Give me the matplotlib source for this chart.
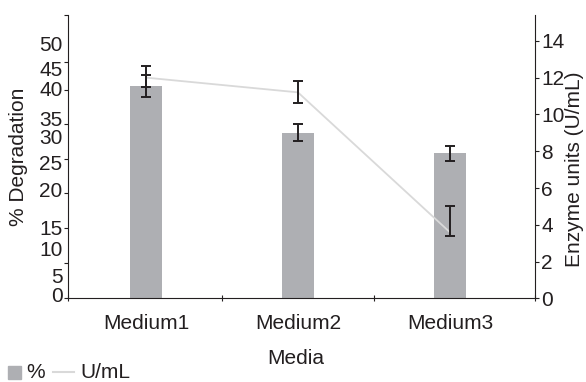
import matplotlib.pyplot as plt
from matplotlib.lines import Line2D
from matplotlib.patches import Rectangle

plt.rcParams["font.family"] = ["Liberation Sans", "DejaVu Sans"]

# degradation (%) per medium, and enzyme activity (U/mL) per medium
media = ["Medium1", "Medium2", "Medium3"]
degradation = [40.9, 31.9, 27.9]
degradation_err = [2.1, 1.6, 1.4]
enzyme = [12.0, 11.2, 3.6]
enzyme_err_low = [0.5, 0.6, 0.2]
enzyme_err_high = [0.65, 0.6, 1.4]

# left axis: printed labels and tick marks do not sit on the same grid
left_labels = ["0", "5", "10", "15", "20", "25", "30", "35", "40", "45", "50"]
left_label_pos = [0.7, 4.5, 9.7, 13.6, 20.9, 26.1, 31.2, 34.7, 40.3, 44.3, 49.1]
left_tick_marks = [0, 6.8, 13.5, 20.3, 26.8, 33.6, 40.1, 45.5, 54.5]
right_ticks = [0, 2, 4, 6, 8, 10, 12, 14]

INK = "#231F20"
BAR = "#AEAFB3"
LINE = "#D9D9D9"
FS = 15

fig = plt.figure(figsize=(5.86, 3.82), dpi=100)
ax = fig.add_axes([0.116, 0.2186, 0.797, 0.742])
ax2 = ax.twinx()

x = range(len(media))
ax.bar(x, degradation, width=0.21, color=BAR, zorder=2)
ax.errorbar(x, degradation, yerr=degradation_err, fmt="none", ecolor=INK,
            elinewidth=1.4, capsize=3.3, capthick=1.4, zorder=3)

ax2.plot(x, enzyme, color=LINE, lw=1.3, zorder=2)
ax2.errorbar(x, enzyme, yerr=[enzyme_err_low, enzyme_err_high], fmt="none",
             ecolor=INK, elinewidth=1.4, capsize=3.3, capthick=1.4, zorder=3)

ax.set_xlim(-0.513, 2.56)
ax.set_ylim(0, 54.5)
ax2.set_ylim(0, 15.4)

for a in (ax, ax2):
    a.spines["top"].set_visible(False)
    for s in a.spines.values():
        s.set_linewidth(0.8)
        s.set_color(INK)
ax.spines["right"].set_visible(False)
ax2.spines["left"].set_visible(False)
ax2.spines["bottom"].set_visible(False)

ax.set_xticks(list(x), media)
ax.set_xticks([-0.513, 0.5, 1.5, 2.56], minor=True)
ax.tick_params(axis="x", which="major", length=0, pad=11, labelsize=FS, labelcolor=INK)
ax.tick_params(axis="x", which="minor", direction="inout", length=5, width=0.8, color=INK)

ax.set_yticks(left_label_pos, left_labels)
ax.set_yticks(left_tick_marks, minor=True)
ax.tick_params(axis="y", which="major", length=0, pad=4, labelsize=FS, labelcolor=INK)
ax.tick_params(axis="y", which="minor", length=2.6, width=0.8, color=INK)

ax2.set_yticks(right_ticks)
ax2.tick_params(axis="y", length=2.6, width=0.8, color=INK, pad=2,
                labelsize=FS, labelcolor=INK)

fig.text(19 / 586, 1 - 157 / 382, "% Degradation", rotation=90, ha="center",
         va="center", fontsize=FS, color=INK)
fig.text(574 / 586, 1 - 169 / 382, "Enzyme units (U/mL)", rotation=90,
         ha="center", va="center", fontsize=FS, color=INK)
fig.text(296 / 586, 1 - 358 / 382, "Media", ha="center", va="center",
         fontsize=FS, color=INK)

# legend drawn by hand along the bottom edge
fig.patches.append(Rectangle((8 / 586, 1 - 379 / 382), 13 / 586, 13 / 382,
                             transform=fig.transFigure, color=BAR))
fig.text(26 / 586, 1 - 372 / 382, "%", ha="left", va="center", fontsize=FS, color=INK)
fig.lines.append(Line2D([53 / 586, 74 / 586], [1 - 372 / 382, 1 - 372 / 382],
                        transform=fig.transFigure, color=LINE, lw=1.5))
fig.text(80 / 586, 1 - 372 / 382, "U/mL", ha="left", va="center", fontsize=FS, color=INK)

fig.savefig("out.png", dpi=100)
